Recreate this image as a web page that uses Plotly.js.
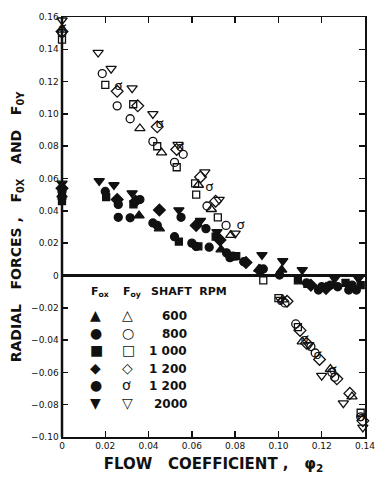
<!DOCTYPE html>
<html><head><meta charset="utf-8">
<script src="https://cdn.plot.ly/plotly-3.0.1.min.js"></script>
<style>html,body{margin:0;padding:0;background:#fff}#chart{width:382px;height:482px}</style>
</head><body><div id="chart"></div>
<script>
// F_ox (filled markers)
const fox600x  = [0, 0.0356, 0.045, 0.0735, 0.0786, 0.091, 0.1015, 0.114];
const fox600y  = [0.050, 0.037, 0.029, 0.016, 0.011, 0.004, 0.0035, -0.006];
const fox800x  = [0, 0.020, 0.026, 0.0315, 0.042, 0.044, 0.052, 0.060, 0.062, 0.068, 0.076, 0.0776, 0.084, 0.1005, 0.113, 0.1185, 0.124, 0.1274, 0.1325, 0.136];
const fox800y  = [0.048, 0.052, 0.036, 0.0357, 0.0325, 0.031, 0.024, 0.020, 0.018, 0.0175, 0.014, 0.011, 0.0085, 0.0003, -0.0046, -0.009, -0.006, -0.007, -0.009, -0.009];
const fox1000x = [0, 0.0204, 0.033, 0.054, 0.063, 0.071, 0.0805, 0.109, 0.131, 0.138];
const fox1000y = [0.046, 0.0485, 0.044, 0.021, 0.018, 0.024, 0.012, -0.003, -0.0046, -0.006];
const fox1200x = [0, 0.0255, 0.034, 0.045, 0.062, 0.073, 0.085, 0.0915, 0.115, 0.122];
const fox1200y = [0.054, 0.047, 0.046, 0.0405, 0.031, 0.022, 0.008, 0.003, -0.006, -0.008];
const fox1200bx = [0, 0.026, 0.036, 0.055, 0.0665, 0.079, 0.093, 0.120, 0.134];
const fox1200by = [0.052, 0.044, 0.047, 0.036, 0.029, 0.012, 0.004, -0.007, -0.006];
const fox2000x = [0, 0.0172, 0.024, 0.0324, 0.054, 0.064, 0.0716, 0.0924, 0.102, 0.111, 0.126, 0.137];
const fox2000y = [0.057, 0.0585, 0.056, 0.051, 0.0405, 0.034, 0.027, 0.0127, 0.009, 0.0035, -0.002, -0.002];
// F_oy (open markers)
const foy600x  = [0, 0.036, 0.046, 0.063, 0.069, 0.078, 0.102, 0.111, 0.124, 0.134];
const foy600y  = [0.152, 0.091, 0.076, 0.056, 0.041, 0.025, -0.015, -0.041, -0.058, -0.075];
const foy800x  = [0, 0.0186, 0.0255, 0.0315, 0.042, 0.056, 0.052, 0.067, 0.0758, 0.103, 0.108, 0.115, 0.117, 0.1247, 0.126, 0.138];
const foy800y  = [0.150, 0.125, 0.105, 0.097, 0.083, 0.075, 0.070, 0.043, 0.031, -0.017, -0.030, -0.044, -0.048, -0.060, -0.063, -0.0875];
const foy1000x = [0, 0.020, 0.0329, 0.044, 0.053, 0.0615, 0.062, 0.072, 0.093, 0.100, 0.109, 0.138];
const foy1000y = [0.146, 0.118, 0.106, 0.080, 0.067, 0.057, 0.050, 0.036, -0.003, -0.014, -0.032, -0.085];
const foy1200x = [0, 0.0255, 0.035, 0.044, 0.053, 0.064, 0.071, 0.104, 0.110, 0.113, 0.119, 0.127, 0.133, 0.139];
const foy1200y = [0.151, 0.114, 0.105, 0.092, 0.078, 0.061, 0.046, -0.016, -0.034, -0.042, -0.052, -0.064, -0.073, -0.090];
const foy1200bx = [0, 0.026, 0.045, 0.0545, 0.068, 0.0825, 0.101, 0.112, 0.118, 0.125, 0.138];
const foy1200by = [0.153, 0.117, 0.093, 0.079, 0.054, 0.031, -0.016, -0.040, -0.050, -0.059, -0.088];
const foy2000x = [0, 0.0167, 0.0227, 0.0324, 0.042, 0.0536, 0.066, 0.0726, 0.080, 0.101, 0.114, 0.120, 0.130, 0.139];
const foy2000y = [0.158, 0.138, 0.128, 0.116, 0.100, 0.081, 0.064, 0.047, 0.026, -0.015, -0.043, -0.062, -0.079, -0.094];

const xTickVals = [0, 0.02, 0.04, 0.06, 0.08, 0.10, 0.12, 0.14];
const xTickText = ['0', '0.02', '0.04', '0.06', '0.08', '0.10', '0.12', '0.14'];
const yTickVals = [-0.10, -0.08, -0.06, -0.04, -0.02, 0, 0.02, 0.04, 0.06, 0.08, 0.10, 0.12, 0.14, 0.16];
const yTickText = ['\u22120.10', '\u22120.08', '\u22120.06', '\u22120.04', '\u22120.02', '0', '0.02', '0.04', '0.06', '0.08', '0.10', '0.12', '0.14', '0.16'];

const rpmLabels = ['600', '800', '1 000', '1 200', '1 200', '2000'];
const foxGlyphs = ['\u25B2', '\u25CF', '\u25A0', '\u25C6', '\u25CF', '\u25BC'];
const foyGlyphs = ['\u25B3', '\u25CB', '\u25A1', '\u25C7', '\u01A1', '\u25BD'];

const K = '#111';
function mk(x, y, sym, size) {
  return {x, y, type: 'scatter', mode: 'markers', cliponaxis: false, showlegend: false, hoverinfo: 'skip',
    marker: {symbol: sym, size: size || 8, color: K, line: {color: K, width: 1.3}}};
}
function txt(x, y, t) {
  return {x, y, type: 'scatter', mode: 'text', text: x.map(() => t), cliponaxis: false, showlegend: false,
    hoverinfo: 'skip', textfont: {family: 'DejaVu Sans', size: 13, color: K}};
}

const data = [
  mk(fox600x, fox600y, 'triangle-up', 9),
  mk(fox800x, fox800y, 'circle', 8),
  mk(fox1000x, fox1000y, 'square', 7),
  mk(fox1200x, fox1200y, 'diamond', 9),
  mk(fox1200bx, fox1200by, 'circle', 8),
  mk(fox2000x, fox2000y, 'triangle-down', 9),
  mk(foy600x, foy600y, 'triangle-up-open', 9),
  mk(foy800x, foy800y, 'circle-open', 8),
  mk(foy1000x, foy1000y, 'square-open', 7),
  mk(foy1200x, foy1200y, 'diamond-open', 9),
  txt(foy1200bx, foy1200by, '\u01A1'),
  mk(foy2000x, foy2000y, 'triangle-down-open', 9)
];

const X0 = 61.7, PW = 303.3, Y1 = 437, PH = 419.7;
const px = v => (v - X0) / PW, py = v => (Y1 - v) / PH;
const lf = {family: 'DejaVu Sans', size: 11, color: K};
const ann = [];
ann.push({xref: 'paper', yref: 'paper', x: px(89), y: py(301), text: '<b>F<sub>ox</sub></b>', showarrow: false, font: lf});
ann.push({xref: 'paper', yref: 'paper', x: px(121), y: py(301), text: '<b>F<sub>oy</sub></b>', showarrow: false, font: lf});
ann.push({xref: 'paper', yref: 'paper', x: px(189), y: py(300), text: '<b>SHAFT  RPM</b>', showarrow: false, font: lf});
const rowY = [325, 343, 360, 378, 395, 413];
rpmLabels.forEach((r, i) => {
  ann.push({xref: 'paper', yref: 'paper', x: px(88), y: py(rowY[i]), text: foxGlyphs[i], showarrow: false, font: {family: 'DejaVu Sans', size: 14, color: K}});
  ann.push({xref: 'paper', yref: 'paper', x: px(120), y: py(rowY[i]), text: foyGlyphs[i], showarrow: false, font: {family: 'DejaVu Sans', size: 14, color: K}});
  ann.push({xref: 'paper', yref: 'paper', x: px(189), y: py(rowY[i]), xanchor: 'right', text: '<b>' + r + '</b>', showarrow: false, font: {family: 'DejaVu Sans', size: 12, color: K}});
});

const layout = {
  width: 382, height: 482,
  margin: {l: 62, r: 17, t: 17, b: 45},
  paper_bgcolor: '#fff', plot_bgcolor: '#fff',
  font: {family: 'DejaVu Sans', color: K},
  xaxis: {range: [0, 0.14], tickvals: xTickVals, ticktext: xTickText, ticks: 'inside', ticklen: 6, tickwidth: 1.5,
    tickcolor: K, showline: true, linecolor: K, linewidth: 1.5, mirror: 'ticks', showgrid: false, zeroline: false,
    tickfont: {size: 9, family: 'DejaVu Sans'},
    title: {text: '<b>FLOW   COEFFICIENT ,   φ<sub>2</sub></b>', font: {size: 15, family: 'DejaVu Sans'}, standoff: 8}},
  yaxis: {range: [-0.10, 0.16], tickvals: yTickVals, ticktext: yTickText, ticks: 'inside', ticklen: 6, tickwidth: 1.5,
    tickcolor: K, showline: true, linecolor: K, linewidth: 1.5, mirror: 'ticks', showgrid: false,
    zeroline: true, zerolinecolor: K, zerolinewidth: 2.2,
    tickfont: {size: 9, family: 'DejaVu Sans'},
    title: {text: '<b>RADIAL   FORCES ,   F<sub>0X</sub>   AND   F<sub>0Y</sub></b>', font: {size: 14, family: 'DejaVu Sans'}, standoff: 6}},
  shapes: [{type: 'line', xref: 'paper', yref: 'paper', x0: 0, x1: 0, y0: 0, y1: 1, line: {color: K, width: 2.5}}],
  annotations: ann
};
Plotly.newPlot('chart', data, layout, {staticPlot: true, displayModeBar: false});
</script></body></html>
